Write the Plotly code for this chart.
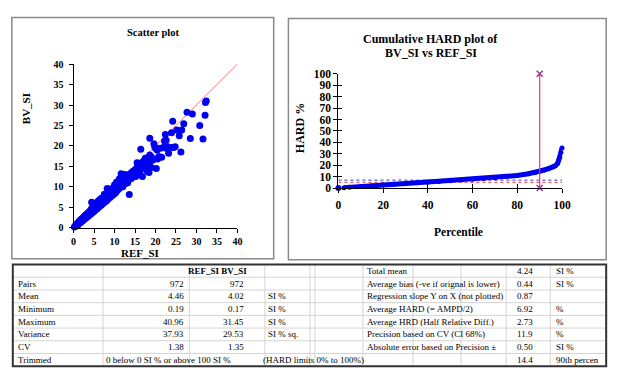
import plotly.graph_objects as go

W, H = 624, 378
SERIF = "Liberation Serif, Times New Roman, serif"

# ---------------- data ----------------
ref_si = [
    0.2, 0.3, 0.5, 0.5, 0.7, 0.8, 1.0, 1.0, 1.2, 1.3, 1.5, 1.5, 1.7, 1.8, 2.0, 2.0, 2.2, 2.3, 2.5, 2.5,
    2.7, 2.8, 3.0, 3.0, 3.2, 3.3, 3.5, 3.5, 3.7, 3.8, 4.0, 4.0, 4.2, 4.3, 4.5, 4.5, 4.7, 4.4, 5.0, 5.0,
    5.2, 5.3, 5.5, 5.5, 5.8, 5.8, 6.0, 6.0, 6.3, 6.3, 6.5, 6.5, 6.8, 6.8, 7.0, 7.0, 7.2, 7.5, 7.5, 7.5,
    7.8, 7.8, 8.0, 8.0, 8.2, 8.3, 8.5, 8.5, 8.8, 8.8, 9.0, 9.0, 9.2, 9.3, 9.5, 9.5, 9.8, 9.8, 10.0, 10.0,
    10.0, 10.3, 10.3, 10.5, 10.5, 10.8, 10.8, 11.0, 11.0, 11.2, 11.3, 11.5, 11.5, 11.6, 11.8, 12.0, 12.0, 12.0, 12.3, 12.3,
    12.5, 12.5, 12.8, 13.0, 13.0, 13.2, 13.5, 13.5, 13.6, 13.8, 14.0, 14.0, 14.3, 14.5, 14.8, 15.0, 15.0, 15.3, 15.5, 15.5,
    15.8, 16.0, 16.0, 16.3, 16.4, 16.5, 16.8, 16.8, 17.0, 17.2, 17.5, 17.5, 17.8, 18.0, 18.0, 18.4, 18.5, 18.6, 18.6, 19.0,
    19.0, 19.3, 19.6, 20.0, 20.2, 20.5, 20.8, 21.2, 21.5, 22.2, 22.6, 22.6, 23.2, 23.9, 24.2, 24.4, 25.2, 25.8, 26.2, 26.4,
    26.9, 27.7, 28.5, 29.0, 30.8, 31.6, 32.1, 32.2, 32.4,
    1.0, 1.6, 2.2, 2.8, 3.4, 4.0, 4.8, 5.6, 6.2, 7.0, 7.6, 8.6, 9.6, 10.6, 11.4, 12.2, 13.2, 14.2, 15.2, 16.2,
    17.0, 19.8, 22.0, 23.0, 24.0, 24.8, 22.4, 20.4,
]
bv_si = [
    0.2, 0.3, 0.4, 0.6, 0.6, 0.9, 0.8, 1.1, 1.0, 1.5, 1.2, 1.7, 1.4, 2.0, 1.6, 2.2, 1.8, 2.4, 2.0, 2.7,
    2.2, 3.0, 2.4, 3.1, 2.6, 3.4, 2.8, 3.6, 3.0, 3.9, 3.2, 4.1, 3.5, 4.5, 3.6, 4.8, 3.9, 6.2, 4.0, 5.2,
    4.3, 5.6, 4.5, 5.9, 4.7, 6.3, 5.0, 6.5, 5.2, 6.8, 5.4, 5.9, 5.6, 7.2, 5.8, 6.5, 6.0, 8.2, 6.2, 7.0,
    6.4, 7.6, 6.6, 7.4, 9.6, 6.9, 7.2, 8.0, 7.4, 8.6, 7.5, 8.3, 9.5, 7.8, 8.0, 8.8, 8.2, 9.8, 8.4, 9.2,
    10.5, 8.6, 9.6, 9.0, 11.2, 9.3, 10.2, 9.5, 10.8, 12.0, 9.8, 10.2, 11.4, 13.2, 10.5, 10.0, 11.0, 12.4, 10.6, 11.8,
    11.2, 13.0, 10.9, 11.5, 12.6, 12.0, 11.8, 13.0, 8.1, 12.3, 12.0, 13.4, 12.8, 13.8, 13.0, 12.5, 14.2, 13.5, 14.8, 15.9,
    13.8, 13.5, 15.2, 14.0, 19.2, 15.8, 12.5, 14.6, 16.2, 16.3, 15.0, 17.0, 15.5, 17.1, 13.8, 13.5, 16.0, 17.8, 21.9, 14.7,
    17.3, 16.5, 20.5, 19.4, 14.5, 16.8, 17.4, 19.4, 17.2, 21.2, 21.4, 19.4, 18.2, 23.2, 26.0, 19.6, 23.9, 22.5, 18.5, 23.9,
    25.4, 28.2, 21.8, 27.8, 25.0, 21.7, 27.5, 30.6, 31.0,
    0.6, 1.2, 1.7, 2.3, 2.8, 3.4, 4.0, 4.6, 5.5, 6.0, 6.8, 7.7, 8.7, 9.8, 10.6, 11.2, 11.0, 12.2, 12.6, 14.4,
    15.2, 19.8, 19.7, 19.8, 19.6, 19.8, 22.8, 19.0,
]
identity_line = [0, 40]

percentile = [2.5, 5, 10, 15, 20, 25, 30, 35, 40, 45, 50, 55, 60, 65, 70, 75, 80, 85, 88, 90,
              92, 94, 96, 97, 98, 98.5, 99, 99.5, 100]
hard_pct = [0.3, 0.7, 1.4, 2.1, 2.8, 3.4, 4.0, 4.6, 5.2, 5.8, 6.4, 7.0, 7.6, 8.3, 9.1, 10.0, 11.0, 12.5, 13.6, 14.6,
            15.8, 17.0, 18.5, 19.5, 21.5, 24.0, 27.0, 31.0, 35.0]
zero_point_x = [0]
zero_point_y = [0]
p90_x = [90, 90]
p90_y = [0, 100]
avg_hard_level = 6.92
red_level = 5.0
level_span = [0, 100]

# table
table_header = "REF_SI BV_SI"
left_labels = ["Pairs", "Mean", "Minimum", "Maximum", "Variance", "CV"]
ref_col = ["972", "4.46", "0.19", "40.96", "37.93", "1.38"]
bv_col = ["972", "4.02", "0.17", "31.45", "29.53", "1.35"]
unit_col = ["", "SI %", "SI %", "SI %", "SI % sq.", ""]
trim_label = "Trimmed"
trim_text = "0 below 0 SI % or above 100 SI %"
trim_limits = "(HARD limits 0% to 100%)"
right_labels = ["Total mean", "Average bias (-ve if orignal is lower)", "Regression slope Y on X (not plotted)",
                "Average HARD (= AMPD/2)", "Average HRD (Half Relative Diff.)", "Precision based on CV (CI 68%)",
                "Absolute error based on Precision \u00b1", ""]
right_vals = ["4.24", "0.44", "0.87", "6.92", "2.73", "11.9", "0.50", "14.4"]
right_units = ["SI %", "SI %", "", "%", "%", "%", "SI %", "90th percen"]


def px(x):
    return x / W


def py(y):
    return 1 - y / H


fig = go.Figure()

# scatter plot
fig.add_trace(go.Scatter(x=identity_line, y=identity_line, mode="lines",
                         line=dict(color="#FF6F6F", width=1), xaxis="x", yaxis="y",
                         hoverinfo="skip", showlegend=False))
fig.add_trace(go.Scatter(x=ref_si, y=bv_si, mode="markers", cliponaxis=False,
                         marker=dict(color="#0000F0", size=7), xaxis="x", yaxis="y", showlegend=False))

# HARD plot
fig.add_trace(go.Scatter(x=level_span, y=[avg_hard_level, avg_hard_level], mode="lines",
                         line=dict(color="#3333CC", width=1, dash="dot"), xaxis="x2", yaxis="y2", showlegend=False))
fig.add_trace(go.Scatter(x=level_span, y=[red_level, red_level], mode="lines",
                         line=dict(color="#EE3333", width=1, dash="dot"), xaxis="x2", yaxis="y2", showlegend=False))
fig.add_trace(go.Scatter(x=percentile, y=hard_pct, mode="lines+markers", cliponaxis=False,
                         line=dict(color="#0000F0", width=5), marker=dict(color="#0000F0", size=5),
                         xaxis="x2", yaxis="y2", showlegend=False))
fig.add_trace(go.Scatter(x=zero_point_x, y=zero_point_y, mode="markers", cliponaxis=False,
                         marker=dict(color="#0000F0", size=6), xaxis="x2", yaxis="y2", showlegend=False))
fig.add_trace(go.Scatter(x=p90_x, y=p90_y, mode="lines+markers", cliponaxis=False,
                         line=dict(color="#FF3366", width=1.2),
                         marker=dict(symbol="x-thin", size=6, line=dict(color="#993399", width=1.5)),
                         xaxis="x2", yaxis="y2", showlegend=False))

tick_font_s = dict(family=SERIF, size=10, color="black", weight="bold")
tick_font_h = dict(family=SERIF, size=11.5, color="black", weight="bold")
axis_common = dict(showgrid=False, zeroline=False, showline=True, linecolor="black", linewidth=1,
                   ticks="outside", ticklen=4, tickcolor="black")

fig.update_layout(
    width=W, height=H, margin=dict(l=0, r=0, t=0, b=0),
    paper_bgcolor="white", plot_bgcolor="white", showlegend=False,
    xaxis=dict(domain=[px(72), px(239)], range=[0, 40], dtick=5, tickfont=tick_font_s,
               anchor="y", ticklabelstandoff=0, **axis_common),
    yaxis=dict(domain=[py(229), py(60)], range=[0, 40], dtick=5, tickfont=tick_font_s,
               anchor="x", ticklabelstandoff=3, **axis_common),
    xaxis2=dict(domain=[px(342), px(570)], range=[0, 100], dtick=20, tickfont=tick_font_h,
                anchor="y2", ticklabelstandoff=2, **axis_common),
    yaxis2=dict(domain=[py(188), py(70)], range=[0, 100], dtick=10, tickfont=tick_font_h,
                anchor="x2", ticklabelstandoff=0, **axis_common),
    xaxis3=dict(domain=[px(342), px(570)], range=[0, 100], dtick=20, overlaying="x2", anchor="y2",
                showticklabels=False, ticks="inside", ticklen=4, tickcolor="black",
                showgrid=False, zeroline=False, showline=False),
    yaxis3=dict(domain=[py(188), py(70)], range=[0, 100], dtick=10, overlaying="y2", anchor="x2",
                showticklabels=False, ticks="inside", ticklen=4, tickcolor="black",
                showgrid=False, zeroline=False, showline=False),
)
# invisible trace that activates the overlay axes (crossing tick marks)
fig.add_trace(go.Scatter(x=level_span, y=level_span, mode="markers", marker=dict(opacity=0),
                         xaxis="x3", yaxis="y3", hoverinfo="skip", showlegend=False))

shapes = []
# panel borders
shapes.append(dict(type="rect", xref="paper", yref="paper", x0=px(9), x1=px(276), y0=py(261), y1=py(12),
                   line=dict(color="#8a8a8a", width=1.5)))
shapes.append(dict(type="rect", xref="paper", yref="paper", x0=px(291), x1=px(615), y0=py(262), y1=py(13),
                   line=dict(color="#8a8a8a", width=1.5)))

# table geometry
t_left, t_right, t_top, t_bottom = 10, 615, 267, 372
n_rows = 8
row_h = (t_bottom - t_top) / n_rows
for i in range(1, n_rows):
    yy = t_top + i * row_h
    shapes.append(dict(type="line", xref="paper", yref="paper", x0=px(t_left), x1=px(t_right),
                       y0=py(yy), y1=py(yy), line=dict(color="#d4d4d4", width=1)))
for xx in [102, 190, 267, 313, 318, 367, 418, 467, 513, 558]:
    shapes.append(dict(type="line", xref="paper", yref="paper", x0=px(xx), x1=px(xx),
                       y0=py(t_top), y1=py(t_bottom), line=dict(color="#d4d4d4", width=1)))
shapes.append(dict(type="rect", xref="paper", yref="paper", x0=px(t_left), x1=px(t_right),
                   y0=py(t_bottom), y1=py(t_top), line=dict(color="#333333", width=2)))
fig.update_layout(shapes=shapes)

ann = []


def text(x, y, s, anchor="left", size=9, bold=False, angle=0):
    ann.append(dict(xref="paper", yref="paper", x=px(x), y=py(y), text=s, showarrow=False,
                    xanchor=anchor, yanchor="middle", textangle=angle,
                    font=dict(family=SERIF, size=size, color="black", weight="bold" if bold else "normal")))


# chart titles
text(153, 27, "Scatter plot", "center", 10.5, True)
text(140, 255, "REF_SI", "center", 11, True)
text(23, 106, "BV_SI", "center", 11, True, -90)
text(436, 34, "Cumulative HARD plot of", "center", 12, True)
text(436, 49, "BV_SI vs REF_SI", "center", 12, True)
text(303, 126, "HARD %", "center", 12, True, -90)
text(464, 233, "Percentile", "center", 11.5, True)


# table texts
def row_y(i):
    return t_top + (i + 0.5) * row_h


text(219, row_y(0), table_header, "center", 9, True)
for i, lab in enumerate(left_labels):
    r = i + 1
    text(13, row_y(r), lab)
    text(187, row_y(r), ref_col[i], "right")
    text(248, row_y(r), bv_col[i], "right")
    if unit_col[i]:
        text(268, row_y(r), unit_col[i])
text(13, row_y(7), trim_label)
text(103, row_y(7), trim_text)
text(263, row_y(7), trim_limits)
for i in range(n_rows):
    if right_labels[i]:
        text(369, row_y(i), right_labels[i])
    text(542, row_y(i), right_vals[i], "right")
    if right_units[i]:
        text(562, row_y(i), right_units[i])

fig.update_layout(annotations=ann)
fig.write_html("out.html", config={"displayModeBar": False})

# remove the browser's default page margin so the figure sits at the window origin
with open("out.html", "r", encoding="utf-8") as f:
    page = f.read()
page = page.replace("<body>", '<body style="margin:0;padding:0;overflow:hidden">', 1)
with open("out.html", "w", encoding="utf-8") as f:
    f.write(page)
